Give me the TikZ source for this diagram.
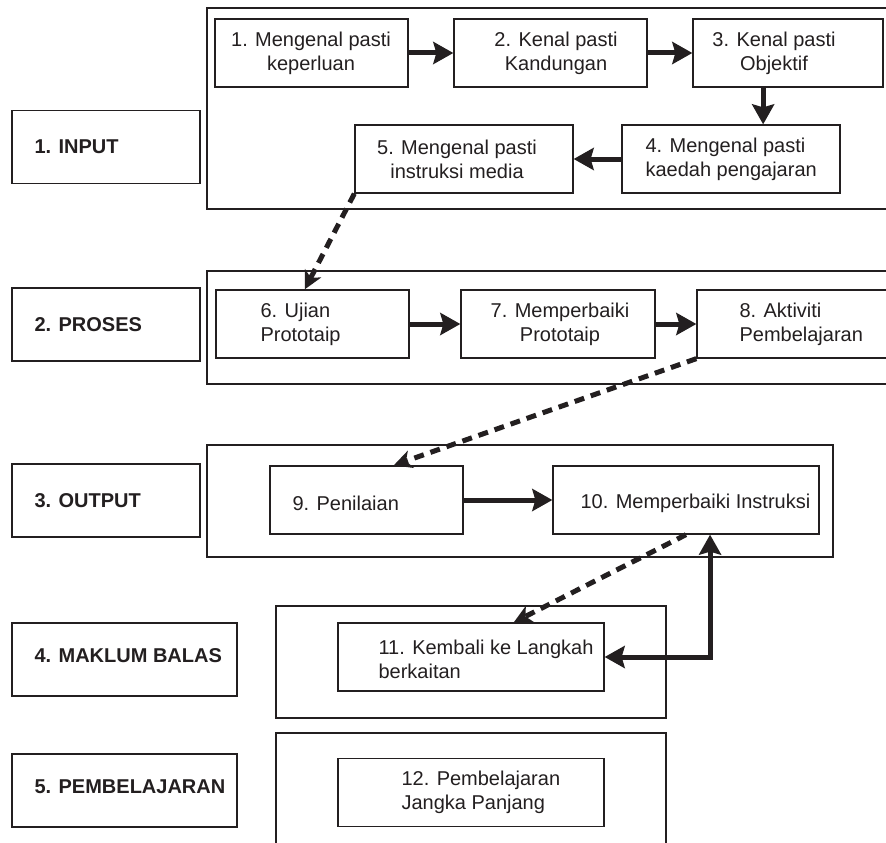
\documentclass[tikz,border=0pt]{standalone}
\usepackage{fontspec}
\setmainfont{Liberation Sans}
\usetikzlibrary{arrows.meta,calc}
\definecolor{ink}{HTML}{231F20}
\begin{document}
\begin{tikzpicture}[x=1pt,y=-1pt,
  frame/.style={draw=ink,line width=1.4pt},
  stepbox/.style={draw=ink,line width=1.3pt,minimum width=#1,minimum height=68pt,inner sep=0pt},
  phasebox/.style={draw=ink,line width=1.3pt,minimum width=#1,minimum height=73pt,inner sep=0pt},
  steptext/.style={inner sep=0pt,text=ink,font=\fontsize{20}{24}\selectfont},
  phasetext/.style={anchor=west,inner sep=0pt,text=ink,font=\fontsize{20}{24}\selectfont\bfseries},
  flow/.style={draw=ink,line width=5pt,-{Stealth[length=20pt,width=22pt,inset=3pt]}},
  jump/.style={draw=ink,line width=5pt,dash pattern=on 10pt off 7pt,-{Stealth[length=18pt,width=18pt,inset=5pt]}},
]
\useasboundingbox (0,0) rectangle (886,843);
\clip (0,0) rectangle (886,843);
\fill[white] (0,0) rectangle (886,843);

% phase frames
\draw[frame] (207,8) rectangle (910,209);
\draw[frame] (207,271) rectangle (910,384);
\draw[frame] (207,445) rectangle (833,557);
\draw[frame] (276,606) rectangle (666,718);
\draw[frame] (276,733) rectangle (666,880);

% phase labels
\node[phasebox=188pt] (p1) at (106,147) {};
\node[phasetext] (l1) at ([xshift=23pt]p1.west) {1. INPUT};
\node[phasebox=188pt] (p2) at (106,324.5) {};
\node[phasetext] (l2) at ([xshift=23pt]p2.west) {2. PROSES};
\node[phasebox=188pt] (p3) at (106,500.5) {};
\node[phasetext] (l3) at ([xshift=23pt]p3.west) {3. OUTPUT};
\node[phasebox=225pt] (p4) at (124.5,659.5) {};
\node[phasetext] (l4) at ([xshift=23pt,yshift=4pt]p4.west) {4. MAKLUM BALAS};
\node[phasebox=225pt] (p5) at (124.5,790.5) {};
\node[phasetext] (l5) at ([xshift=23pt,yshift=4pt]p5.west) {5. PEMBELAJARAN};

% steps
\node[stepbox=193pt] (b1) at (311.5,53) {};
\node[steptext,align=center] (t1) at (311,53) {1. Mengenal pasti\\keperluan};
\node[stepbox=193pt] (b2) at (550.5,53) {};
\node[steptext,align=center] (t2) at (556,53) {2. Kenal pasti\\Kandungan};
\node[stepbox=190pt] (b3) at (788,53) {};
\node[steptext,align=center] (t3) at (774,53) {3. Kenal pasti\\Objektif};
\node[stepbox=218pt] (b4) at (731,159) {};
\node[steptext,align=left,anchor=west] (t4) at ([xshift=24pt]b4.west) {4. Mengenal pasti\\kaedah pengajaran};
\node[stepbox=218pt] (b5) at (464,159) {};
\node[steptext,align=center] (t5) at (457,159) {5. Mengenal pasti\\instruksi media};

\node[stepbox=193pt] (b6) at (312.5,324) {};
\node[steptext,align=left,anchor=west] (t6) at ([xshift=45pt]b6.west) {6. Ujian\\Prototaip};
\node[stepbox=194pt] (b7) at (558,324) {};
\node[steptext,align=center] (t7) at (560,324) {7. Memperbaiki\\Prototaip};
\node[stepbox=218pt] (b8) at (806,324) {};
\node[steptext,align=left,anchor=west] (t8) at ([xshift=43pt]b8.west) {8. Aktiviti\\Pembelajaran};

\node[stepbox=193pt] (b9) at (366.5,500) {};
\node[steptext,anchor=west] (t9) at ([xshift=23pt,yshift=-3pt]b9.west) {9. Penilaian};
\node[stepbox=266pt] (b10) at (686,500) {};
\node[steptext,anchor=west] (t10) at ([xshift=28pt,yshift=-3pt]b10.west) {10. Memperbaiki Instruksi};

\node[stepbox=266pt] (b11) at (471,657) {};
\node[steptext,align=left,anchor=west] (t11) at ([xshift=41pt,yshift=-2pt]b11.west) {11. Kembali ke Langkah\\berkaitan};
\node[stepbox=266pt] (b12) at (471,792.5) {};
\node[steptext,align=left,anchor=west] (t12) at ([xshift=64pt]b12.west) {12. Pembelajaran\\Jangka Panjang};

% connectors
\draw[flow] (b1.east) -- (b2.west);
\draw[flow] (b2.east) -- (b3.west);
\coordinate (d3) at ($(b3.south west)!0.37!(b3.south east)$);
\draw[flow] (d3) -- (d3 |- b4.north);
\draw[flow] (b4.west) -- (b5.east);
\draw[jump] (b5.south west) -- ($(b6.north west)!0.46!(b6.north east)$);
\draw[flow] (b6.east) -- (b7.west);
\draw[flow] (b7.east) -- (b8.west);
\draw[jump] (b8.south west) -- ($(b9.north west)!0.64!(b9.north east)$);
\draw[flow] (b9.east) -- (b10.west);
\draw[jump] ($(b10.south west)!0.5!(b10.south east)$) -- ($(b11.north west)!0.66!(b11.north east)$);
\coordinate (r10) at ($(b10.south west)!0.59!(b10.south east)$);
\draw[flow,{Stealth[length=20pt,width=22pt,inset=3pt]}-{Stealth[length=20pt,width=22pt,inset=3pt]}] (r10) |- (b11.east);
\end{tikzpicture}
\end{document}
